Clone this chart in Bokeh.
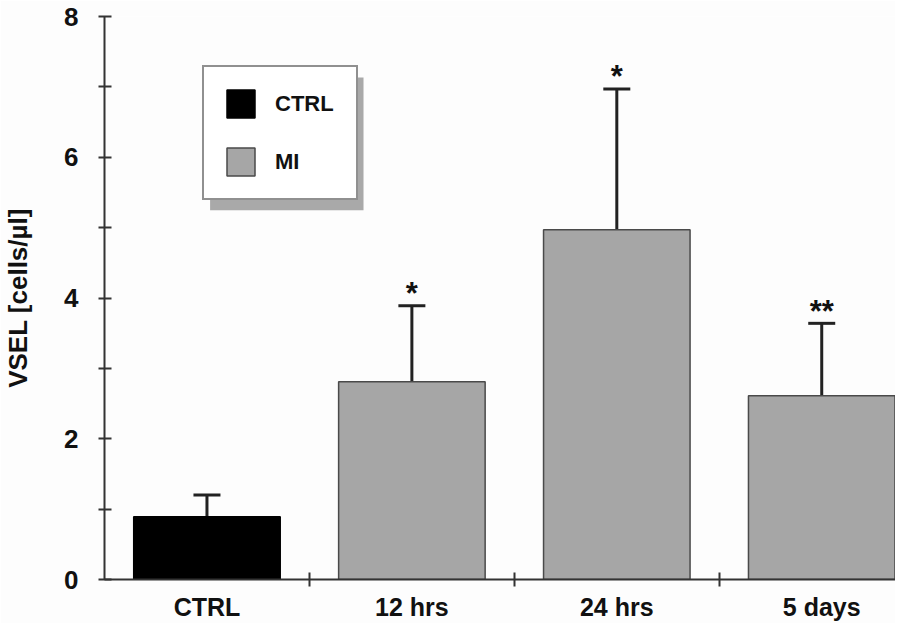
from bokeh.plotting import figure
from bokeh.models import (ColumnDataSource, Whisker, TeeHead, FixedTicker, Legend,
                          LegendItem, BoxAnnotation, Range1d)
from bokeh.core.properties import value
from bokeh.embed import file_html
from bokeh.resources import INLINE

# ---- data ----
categories = ["CTRL", "12 hrs", "24 hrs", "5 days"]
groups = ["CTRL", "MI", "MI", "MI"]
means = [0.89, 2.81, 4.97, 2.61]
errors = [0.31, 1.08, 2.00, 1.03]
significance = ["", "*", "*", "**"]
y_ticks = [0, 2, 4, 6, 8]
y_minor_ticks = [1, 3, 5, 7]
group_colors = {"CTRL": "#000000", "MI": "#a6a6a6"}
group_lines = {"CTRL": "#000000", "MI": "#4a4a4a"}

FONT = "Liberation Sans"
W, H = 895, 623
B_LEFT, B_RIGHT, B_TOP, B_BOTTOM = 101, 0, 16, 43
X_END = 3.86
Y_END = 8

xs = [i + 0.5 for i in range(len(categories))]
uppers = [m + e for m, e in zip(means, errors)]

p = figure(width=W, height=H, x_range=Range1d(0, X_END), y_range=Range1d(0, Y_END),
           output_backend="svg", toolbar_location=None,
           min_border_left=B_LEFT, min_border_right=B_RIGHT,
           min_border_top=B_TOP, min_border_bottom=B_BOTTOM)
p.background_fill_color = "#fdfdfd"
p.border_fill_color = "#fdfdfd"
p.outline_line_color = None
p.grid.visible = False

renderers = {}
for g in ["CTRL", "MI"]:
    idx = [i for i, gg in enumerate(groups) if gg == g]
    src = ColumnDataSource(dict(x=[xs[i] for i in idx], top=[means[i] for i in idx]))
    renderers[g] = p.vbar(x="x", top="top", bottom=0, width=0.715, source=src,
                          fill_color=group_colors[g], line_color=group_lines[g], line_width=1.5)

err_src = ColumnDataSource(dict(x=xs, lower=means, upper=uppers, sig=significance))
whisk = Whisker(base="x", lower="lower", upper="upper", source=err_src, dimension="height",
                line_color="#222222", line_width=3, lower_head=None,
                upper_head=TeeHead(size=27, line_width=3, line_color="#222222"))
p.add_layout(whisk)

p.text(x="x", y="upper", text="sig", source=err_src, text_font=value(FONT),
       text_font_style="bold", text_font_size="31px", text_align="center",
       text_baseline="alphabetic", y_offset=-12, text_color="#111111")

# x axis: category labels at bar centres, separator ticks between categories
p.xaxis.ticker = FixedTicker(ticks=xs, minor_ticks=[i for i in range(1, len(categories))])
p.xaxis.major_label_overrides = {x: c for x, c in zip(xs, categories)}
p.xaxis.major_tick_in = 0
p.xaxis.major_tick_out = 0
p.xaxis.minor_tick_in = 7
p.xaxis.minor_tick_out = 7
p.xaxis.minor_tick_line_width = 2
p.xaxis.minor_tick_line_color = "#333333"
p.xaxis.axis_line_width = 2
p.xaxis.axis_line_color = "#333333"
p.xaxis.major_label_text_font = FONT
p.xaxis.major_label_text_font_style = "bold"
p.xaxis.major_label_text_font_size = "25px"
p.xaxis.major_label_text_color = "#111111"
p.xaxis.major_label_standoff = 6

# y axis
p.yaxis.ticker = FixedTicker(ticks=y_ticks, minor_ticks=y_minor_ticks)
p.yaxis.bounds = (0, Y_END)
p.yaxis.major_tick_in = 7
p.yaxis.major_tick_out = 6
p.yaxis.minor_tick_in = 7
p.yaxis.minor_tick_out = 6
p.yaxis.major_tick_line_width = 2
p.yaxis.minor_tick_line_width = 2
p.yaxis.major_tick_line_color = "#333333"
p.yaxis.minor_tick_line_color = "#333333"
p.yaxis.axis_line_width = 2
p.yaxis.axis_line_color = "#333333"
p.yaxis.major_label_text_font = FONT
p.yaxis.major_label_text_font_style = "bold"
p.yaxis.major_label_text_font_size = "26px"
p.yaxis.major_label_text_color = "#111111"
p.yaxis.major_label_standoff = 20
p.yaxis.axis_label = "VSEL [cells/µl]"
p.yaxis.axis_label_text_font = FONT
p.yaxis.axis_label_text_font_style = "bold"
p.yaxis.axis_label_text_font_size = "26px"
p.yaxis.axis_label_text_color = "#111111"
p.yaxis.axis_label_standoff = 28

# legend shadow (decoration), converted from frame pixel geometry to data units
frame_w = W - B_LEFT - B_RIGHT
frame_h = H - B_TOP - B_BOTTOM
px_per_x = frame_w / X_END
px_per_y = frame_h / Y_END
leg_left_px, leg_bottom_px, leg_w, leg_h = 98, 379, 154, 133
shadow_dx, shadow_dy = 8, 9
shadow = BoxAnnotation(left=(leg_left_px + shadow_dx) / px_per_x,
                       right=(leg_left_px + leg_w + shadow_dx) / px_per_x,
                       bottom=(leg_bottom_px - shadow_dy) / px_per_y,
                       top=(leg_bottom_px + leg_h - shadow_dy) / px_per_y,
                       fill_color="#a9a9a9", fill_alpha=1.0, line_color=None)
p.add_layout(shadow)

legend = Legend(items=[LegendItem(label=g, renderers=[renderers[g]]) for g in ["CTRL", "MI"]],
                location=(leg_left_px, leg_bottom_px), orientation="vertical",
                padding=19, spacing=23, margin=0, glyph_width=35, glyph_height=35,
                label_standoff=17, label_width=62,
                label_text_font=FONT, label_text_font_style="bold",
                label_text_font_size="22px", label_text_color="#111111",
                border_line_color="#222222", border_line_width=2,
                background_fill_color="#ffffff", background_fill_alpha=1.0)
p.add_layout(legend)

open("out.html", "w").write(file_html(p, INLINE))
